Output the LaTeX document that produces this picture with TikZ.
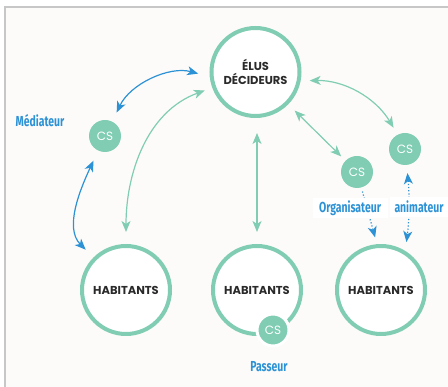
\documentclass[tikz,border=0pt]{standalone}
\usepackage{fontspec}
\setmainfont{Poppins}
\newfontfamily\rolefont[FakeStretch=0.72]{Fira Sans}
\usetikzlibrary{arrows.meta}
\definecolor{csgreen}{HTML}{80CDB4}
\definecolor{csblue}{HTML}{2D92D5}
\definecolor{ink}{HTML}{2A2A2A}
\definecolor{paper}{HTML}{FCFBF9}
\tikzset{>={Stealth[length=11pt,width=9pt,inset=3pt]}}

\begin{document}
\begin{tikzpicture}[x=1pt,y=-1pt,
    big/.style={circle,draw=csgreen,line width=4pt,fill=white,minimum size=88pt,
      inner sep=0pt,align=center,text=ink,font=\bfseries\fontsize{11.5}{13.5}\selectfont},
    cs/.style={circle,fill=csgreen,minimum size=32pt,inner sep=0pt,text=white,
      font=\fontsize{12}{12}\selectfont},
    role/.style={text=csblue,font=\rolefont\bfseries\fontsize{14.5}{14.5}\selectfont,inner sep=1pt},
    link/.style={<->,csgreen,line width=1.2pt},
    blink/.style={<->,csblue,line width=1.2pt},
    dots/.style={csblue,line width=1.2pt,dotted}]
  \useasboundingbox (0,0) rectangle (448,387);
  \fill[white] (0,0) rectangle (448,387);
  \fill[paper] (5,7) rectangle (448,387);
  \draw[black!22,line width=1.5pt] (5,387) -- (5,7) -- (448,7);

  \node[big] (elus) at (255.5,72) {ÉLUS\\DÉCIDEURS};
  \foreach \x/\n in {126/1,257/2,381/3}
    \node[big] (h\n) at (\x,290) {HABITANTS};

  \node[cs] (cs1) at (105,136) {CS};
  \node[cs] (cs2) at (357,172) {CS};
  \node[cs] (cs3) at (405,149) {CS};
  \node[cs,draw=white,line width=3pt] (cs4) at (273,330) {CS};

  \draw[blink,shorten <=10pt,shorten >=12pt] (cs1.63) to[bend left=40] (elus.186);
  \draw[blink,shorten <=11pt,shorten >=11pt] (cs1) to[out=245,in=135] (h1);
  \draw[link,shorten <=12pt,shorten >=8pt] (h1) to[out=90,in=200] (elus);
  \draw[link,shorten <=15pt,shorten >=12pt] (elus.south -| h2) -- (h2);
  \draw[link,shorten <=9pt,shorten >=6pt] (elus) -- (cs2);
  \draw[link,shorten <=9pt,shorten >=8pt] (elus.-11) to[bend left=30] (cs3);
  \draw[dots,-{Stealth[length=11pt,width=9pt,inset=3pt]},shorten <=4pt,shorten >=7pt] (cs2) -- (h3.95);
  \draw[dots,{Stealth[length=11pt,width=9pt,inset=3pt]}-{Stealth[length=11pt,width=9pt,inset=3pt]},
    shorten <=8pt,shorten >=9pt] (cs3) to[bend left=6] (h3.58);

  \node[role] (med) at (40,121) {Médiateur};
  \node[role,fill=white,minimum height=20pt,minimum width=75pt] (org) at (350,208) {Organisateur};
  \node[role,fill=white,minimum height=20pt,minimum width=58pt] (ani) at (419,207) {animateur};
  \node[role] (pas) at (269,367) {Passeur};
\end{tikzpicture}
\end{document}
